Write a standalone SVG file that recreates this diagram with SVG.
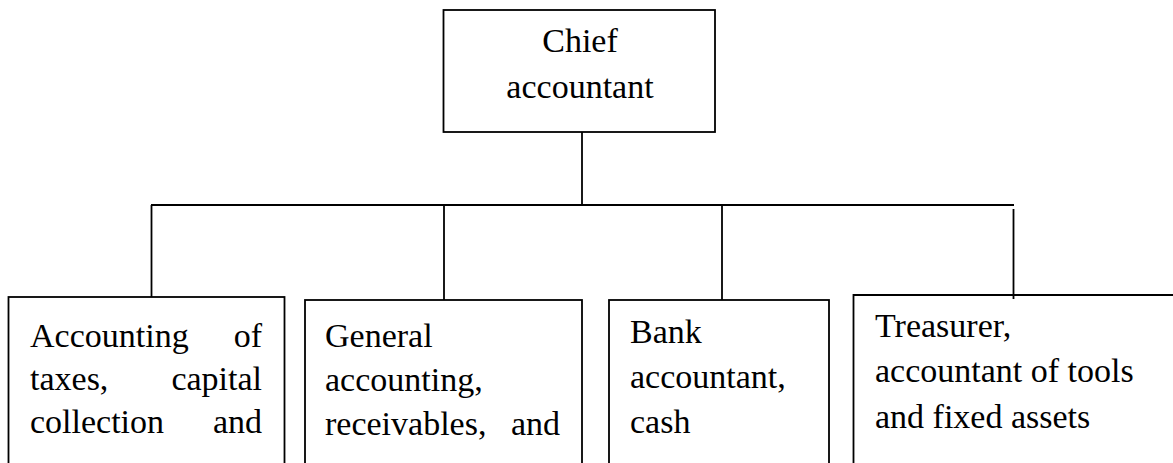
<svg xmlns="http://www.w3.org/2000/svg" width="1173" height="463" viewBox="0 0 1173 463">
<style>
.box{fill:#fff;stroke:#000;stroke-width:1.8}
.ln{stroke:#000;stroke-width:1.8;fill:none}
text{font-family:"Liberation Serif","Times New Roman",serif;font-size:34px;fill:#000}
.e{text-anchor:end}
.m{text-anchor:middle}
</style>
<rect width="1173" height="463" fill="#fff"/>
<g id="connectors">
<line class="ln" x1="582" y1="132" x2="582" y2="205"/>
<line class="ln" x1="151" y1="205" x2="1014" y2="205"/>
<line class="ln" x1="151.5" y1="205" x2="151.5" y2="297"/>
<line class="ln" x1="444" y1="205" x2="444" y2="300"/>
<line class="ln" x1="722" y1="205" x2="722" y2="300"/>
<line class="ln" x1="1013.5" y1="209" x2="1013.5" y2="299"/>
</g>
<g id="chief">
<rect class="box" x="443.5" y="10" width="271.5" height="122"/>
<text class="m" x="580" y="52">Chief</text>
<text class="m" x="580" y="98">accountant</text>
</g>
<g id="taxes">
<rect class="box" x="8.5" y="297" width="276" height="180"/>
<text x="30" y="347">Accounting</text><text class="e" x="262" y="347">of</text>
<text x="30" y="390">taxes,</text><text class="e" x="262" y="390">capital</text>
<text x="30" y="433">collection</text><text class="e" x="262" y="433">and</text>
</g>
<g id="general">
<rect class="box" x="305" y="300" width="277" height="180"/>
<text x="325" y="347">General</text>
<text x="325" y="391">accounting,</text>
<text x="325" y="435">receivables,</text><text class="e" x="560" y="435">and</text>
</g>
<g id="bank">
<rect class="box" x="609" y="300" width="220" height="180"/>
<text x="630" y="343">Bank</text>
<text x="630" y="388">accountant,</text>
<text x="630" y="433">cash</text>
</g>
<g id="treasurer">
<path class="ln" d="M853.5 480 V295 H1173"/>
<text x="875" y="337">Treasurer,</text>
<text x="875" y="382">accountant of tools</text>
<text x="875" y="428">and fixed assets</text>
</g>
</svg>
